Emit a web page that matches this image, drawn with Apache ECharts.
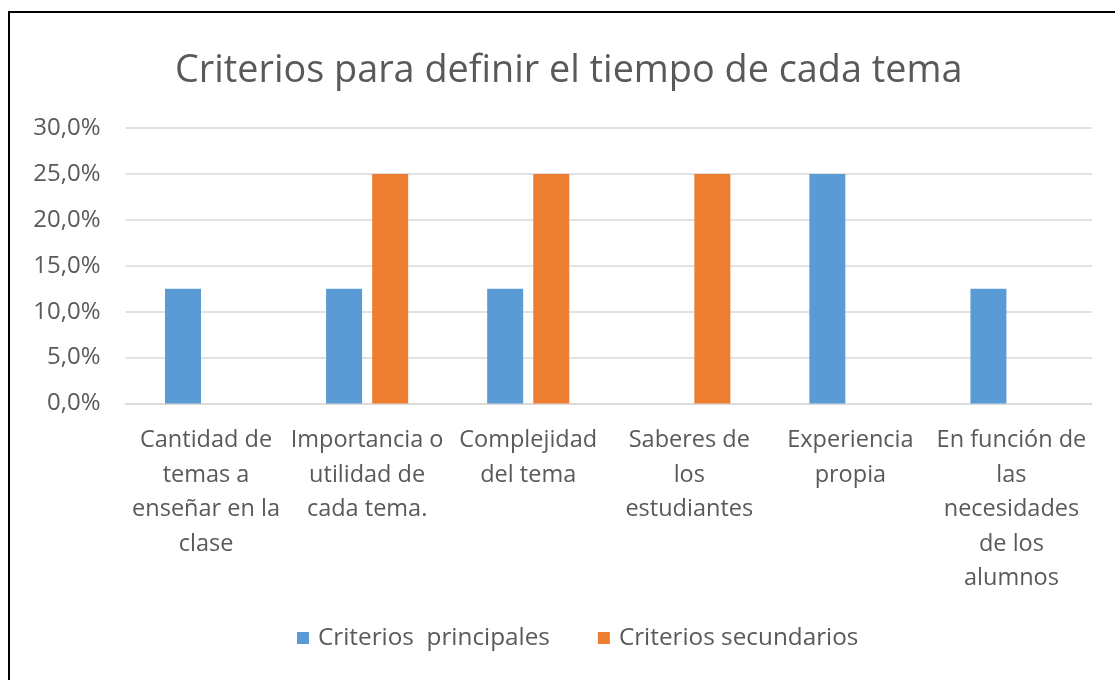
<!DOCTYPE html>
<html><head><meta charset="utf-8">
<script src="https://cdn.jsdelivr.net/npm/echarts@6/dist/echarts.min.js"></script>
<style>html,body{margin:0;padding:0;background:#fff}#c{width:1115px;height:680px}</style>
</head><body><div id="c"></div>
<script>
const titleText = 'Criterios para definir el tiempo de cada tema';
const categories = [
  'Cantidad de\ntemas a\nenseñar en la\nclase',
  'Importancia o\nutilidad de\ncada tema.',
  'Complejidad\ndel tema',
  'Saberes de\nlos\nestudiantes',
  'Experiencia\npropia',
  'En función de\nlas\nnecesidades\nde los\nalumnos'
];
const seriesNames = ['Criterios  principales', 'Criterios secundarios'];
const principales = [12.5, 12.5, 12.5, 0, 25, 12.5];
const secundarios = [0, 25, 25, 25, 0, 0];
const yTicks = [0, 5, 10, 15, 20, 25, 30];

const FONT = 'Open Sans';
const chart = echarts.init(document.getElementById('c'));
chart.setOption({
  backgroundColor: '#fff',
  animation: false,
  graphic: [{
    type: 'rect', shape: {x: 9, y: 12, width: 1200, height: 800},
    style: {fill: 'none', stroke: '#000', lineWidth: 2}, silent: true
  }],
  title: {
    text: titleText, left: 170, top: 47,
    textStyle: {fontFamily: FONT, fontSize: 37.8, fontWeight: 'normal', color: '#595959'}
  },
  legend: {
    data: seriesNames, bottom: 25, left: 292, itemWidth: 12, itemHeight: 12, itemGap: 48,
    icon: 'rect',
    textStyle: {fontFamily: FONT, fontSize: 24.3, color: '#595959', padding: [0, 0, 0, 4]}
  },
  grid: {left: 125.5, right: 23, top: 128, bottom: 276.5, containLabel: false},
  xAxis: {
    type: 'category', data: categories,
    axisLine: {show: true, lineStyle: {color: '#d9d9d9', width: 1.5}},
    axisTick: {show: false},
    axisLabel: {interval: 0, fontFamily: FONT, fontSize: 23.5, color: '#595959', lineHeight: 34.5, margin: 20}
  },
  yAxis: {
    type: 'value', min: yTicks[0], max: yTicks[yTicks.length - 1], interval: 5,
    axisLine: {show: false}, axisTick: {show: false},
    splitLine: {lineStyle: {color: '#d9d9d9', width: 1.5}},
    axisLabel: {fontFamily: FONT, fontSize: 24, color: '#595959', margin: 25,
      formatter: v => v.toFixed(1).replace('.', ',') + '%'}
  },
  series: [
    {name: seriesNames[0], type: 'bar', data: principales, barWidth: 36, barGap: '28%',
      itemStyle: {color: '#5B9BD5'}},
    {name: seriesNames[1], type: 'bar', data: secundarios, barWidth: 36,
      itemStyle: {color: '#ED7D31'}}
  ]
});
</script></body></html>
